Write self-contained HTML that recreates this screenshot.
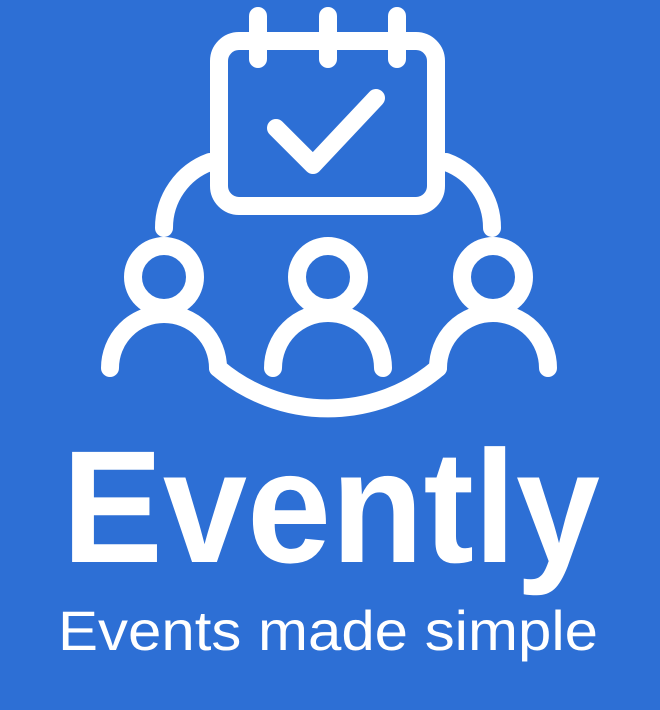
<!DOCTYPE html>
<html><head><meta charset="utf-8"><style>
html,body{margin:0;padding:0;background:#2D6FD5;}
svg{display:block}
</style></head><body>
<svg width="660" height="710" viewBox="0 0 660 710" xmlns="http://www.w3.org/2000/svg">
<rect width="660" height="710" fill="#2D6FD5"/>
<g fill="none" stroke="#fff" stroke-width="18" stroke-linecap="round" stroke-linejoin="round">
<rect x="219" y="41" width="217" height="165" rx="20"/>
<line x1="258" y1="16" x2="258" y2="59"/>
<line x1="328" y1="16" x2="328" y2="59"/>
<line x1="397" y1="16" x2="397" y2="59"/>
<polyline points="276,128 313,165 376,98"/>
<path d="M210,162 A70,70 0 0 0 164,228"/>
<path d="M446,162 A70,70 0 0 1 492,228"/>
<circle cx="164" cy="277" r="31"/>
<circle cx="328" cy="277" r="31"/>
<circle cx="493" cy="277" r="31"/>
<path d="M110,368 A54,54 0 0 1 218,368"/>
<path d="M273,368 A55,55 0 0 1 383,368"/>
<path d="M438,368 A55,55 0 0 1 548,368"/>
<path d="M218,368 A170,170 0 0 0 438,368"/>
</g>
<text x="62" y="562" fill="#fff" font-family="Liberation Sans, sans-serif" font-weight="bold" font-size="160" textLength="538" lengthAdjust="spacingAndGlyphs">Evently</text>
<text x="58" y="650" fill="#fff" font-family="Liberation Sans, sans-serif" font-size="56" textLength="540" lengthAdjust="spacingAndGlyphs">Events made simple</text>
</svg>
</body></html>
